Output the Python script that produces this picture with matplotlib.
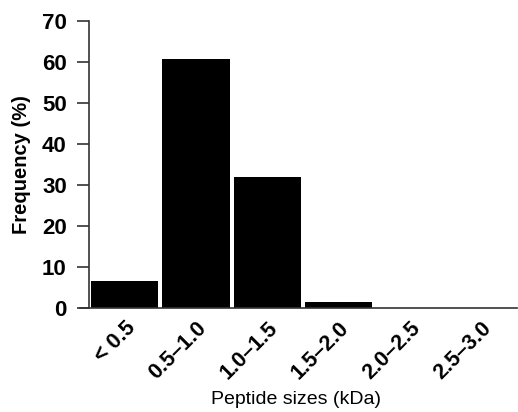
import matplotlib
matplotlib.use("Agg")
import matplotlib.pyplot as plt

categories = ["< 0.5", "0.5\u20131.0", "1.0\u20131.5", "1.5\u20132.0", "2.0\u20132.5", "2.5\u20133.0"]
frequency = [6.6, 60.8, 32.0, 1.4, 0.0, 0.0]
yticks = [0, 10, 20, 30, 40, 50, 60, 70]

plt.rcParams["font.family"] = ["Liberation Sans", "DejaVu Sans"]

fig = plt.figure(figsize=(5.18, 4.12), dpi=100)
ax = fig.add_axes([89/518, 104/412, 428/518, 287/412])

x = list(range(len(categories)))
ax.bar(x, frequency, width=0.94, color="black", edgecolor="none")
ax.set_xlim(-0.5, len(categories) - 0.5)
ax.set_ylim(0, 70)
ax.set_yticks(yticks)
ax.set_yticklabels([str(t) for t in yticks], fontsize=16, fontweight="bold")
ax.set_xticks(x)
ax.set_xticklabels(categories, rotation=45, ha="right", rotation_mode="anchor",
                   fontsize=15.5, fontweight="bold")
ax.tick_params(axis="x", length=0, pad=7)
ax.tick_params(axis="y", length=9, width=1.2, color="#333333", pad=7)
for s in ["top", "right"]:
    ax.spines[s].set_visible(False)
for s in ["left", "bottom"]:
    ax.spines[s].set_color("#333333")
    ax.spines[s].set_linewidth(1.2)
ax.spines["bottom"].set_bounds(-0.63, len(categories) - 0.5)
ax.spines["bottom"].set_clip_on(False)

ax.set_ylabel("Frequency (%)", fontsize=14.5, fontweight="bold", labelpad=8)
ax.set_xlabel("Peptide sizes (kDa)", fontsize=14)
ax.xaxis.set_label_coords(0.484, -0.288)
ax.xaxis.label.set_verticalalignment("top")

fig.savefig("out.png", dpi=100)
